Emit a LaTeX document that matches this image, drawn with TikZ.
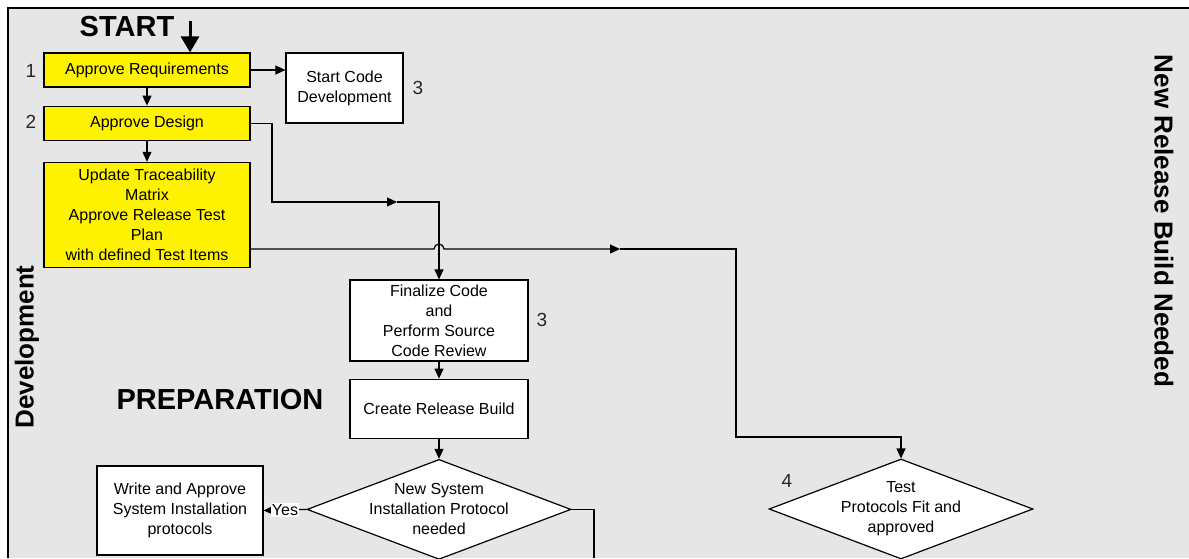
\documentclass[tikz,border=0pt]{standalone}
\usepackage{fontspec}
\setmainfont{Liberation Sans}
\usetikzlibrary{arrows.meta, positioning, shapes.geometric}
\definecolor{panel}{HTML}{E6E6E6}
\tikzstyle{block} = [draw, rectangle, line width=1.2pt, align=center, inner sep=2pt, font=\fontsize{16}{20}\selectfont]
\tikzstyle{approval} = [block, fill=yellow, minimum width=206pt]
\tikzstyle{work} = [block, fill=white]
\tikzstyle{decision} = [draw, diamond, fill=white, line width=1.2pt, align=center, inner xsep=-50pt, inner ysep=-20pt, minimum width=264pt, minimum height=100pt, font=\fontsize{16}{20}\selectfont]
\tikzstyle{heading} = [font=\fontsize{29}{31}\selectfont\bfseries, inner sep=0pt]
\tikzstyle{side} = [font=\fontsize{26}{28}\selectfont\bfseries, inner sep=0pt]
\tikzstyle{number} = [font=\fontsize{19}{19}\selectfont, text=black!85, inner sep=0pt]
\tikzstyle{answer} = [fill=white, inner sep=1pt, font=\fontsize{16}{20}\selectfont]
\tikzstyle{wire} = [line width=1.2pt]
\tikzstyle{flow} = [-{Triangle[length=10pt, width=9pt]}, wire]
\tikzstyle{startflow} = [-{Triangle[length=16pt, width=18pt]}, line width=3pt]

\begin{document}
\begin{tikzpicture}[x=1pt, y=1pt, node distance=20pt]
    \useasboundingbox (0,0) rectangle (1189,-558);

    % Panel.
    \fill [panel] (8,-8) rectangle (1189,-558);
    \draw [line width=1.5pt] (8,-558) -- (8,-8) -- (1189,-8);

    % Approval steps.
    \node (req) [approval, minimum height=34pt] at (147,-70) {Approve Requirements};
    \node (design) [approval, minimum height=34pt, below=18pt of req] {Approve Design};
    \node (trace) [approval, minimum height=105pt, below=21pt of design] {Update Traceability\\Matrix\\Approve Release Test\\Plan\\with defined Test Items};
    \node (startcode) [work, minimum width=117pt, minimum height=70pt] at (344.5,-88) {Start Code\\Development};

    % Preparation.
    \node (finalize) [work, minimum width=178pt, minimum height=81pt] at (439,-320.5) {Finalize Code\\and\\Perform Source\\Code Review};
    \node (build) [work, minimum width=178pt, minimum height=59pt, below=17pt of finalize] {Create Release Build};
    \node (newsys) [decision, below=20pt of build] {New System\\Installation Protocol\\needed};
    \node (writeprot) [work, minimum width=166pt, minimum height=89pt] at (180,-510.5) {Write and Approve\\System Installation\\protocols};
    \node (testfit) [decision] at (901,-509) {Test\\Protocols Fit and\\approved};

    % Headings.
    \node (start) [heading] at (127,-27) {START};
    \node (prep) [heading] at (220,-400) {PREPARATION};
    \node (dev) [side, rotate=90] at (27,-347) {Development};
    \node (newrel) [side, rotate=-90] at (1164,-221) {New Release Build Needed};

    % Step numbers.
    \foreach\i/\n/\px/\py in {1/1/31/71, 2/2/31/122, 3/3/418/88, 4/3/542/320, 5/4/787/481} {
        \node (num\i) [number] at (\px,-\py) {\n};
    }

    % Bends of the routed arrows.
    \coordinate (startend) at (190,-21);
    \coordinate (dbend) at (272,-202);
    \coordinate (dmid) at (397,-202);
    \coordinate (hop) at (439,-249);
    \coordinate (tmid) at (620,-249);
    \coordinate (tbend) at (736,-437);
    \coordinate (nend) at (594,-558);

    % Arrows.
    \draw [startflow] (startend) -- (startend |- req.north);
    \draw [flow] (req) -- (design);
    \draw [flow] (design) -- (trace);
    \draw [flow] (req.east) -- (req.east -| startcode.west);
    \draw [flow] (design.east) -| (dbend) -- (dmid);
    \draw [flow] (dmid) -| (finalize.north);
    \draw [flow] (trace.east |- hop) -- ([xshift=-5pt]hop) arc [start angle=180, end angle=0, radius=5pt] -- (tmid);
    \draw [flow] (tmid) -| (tbend) -| (testfit.north);
    \draw [flow] (finalize) -- (build);
    \draw [flow] (build) -- (newsys);
    \draw [flow] (newsys.west) -- node [answer] {Yes} (writeprot.east);
    \draw [wire] (newsys.east) -| (nend);
\end{tikzpicture}
\end{document}
